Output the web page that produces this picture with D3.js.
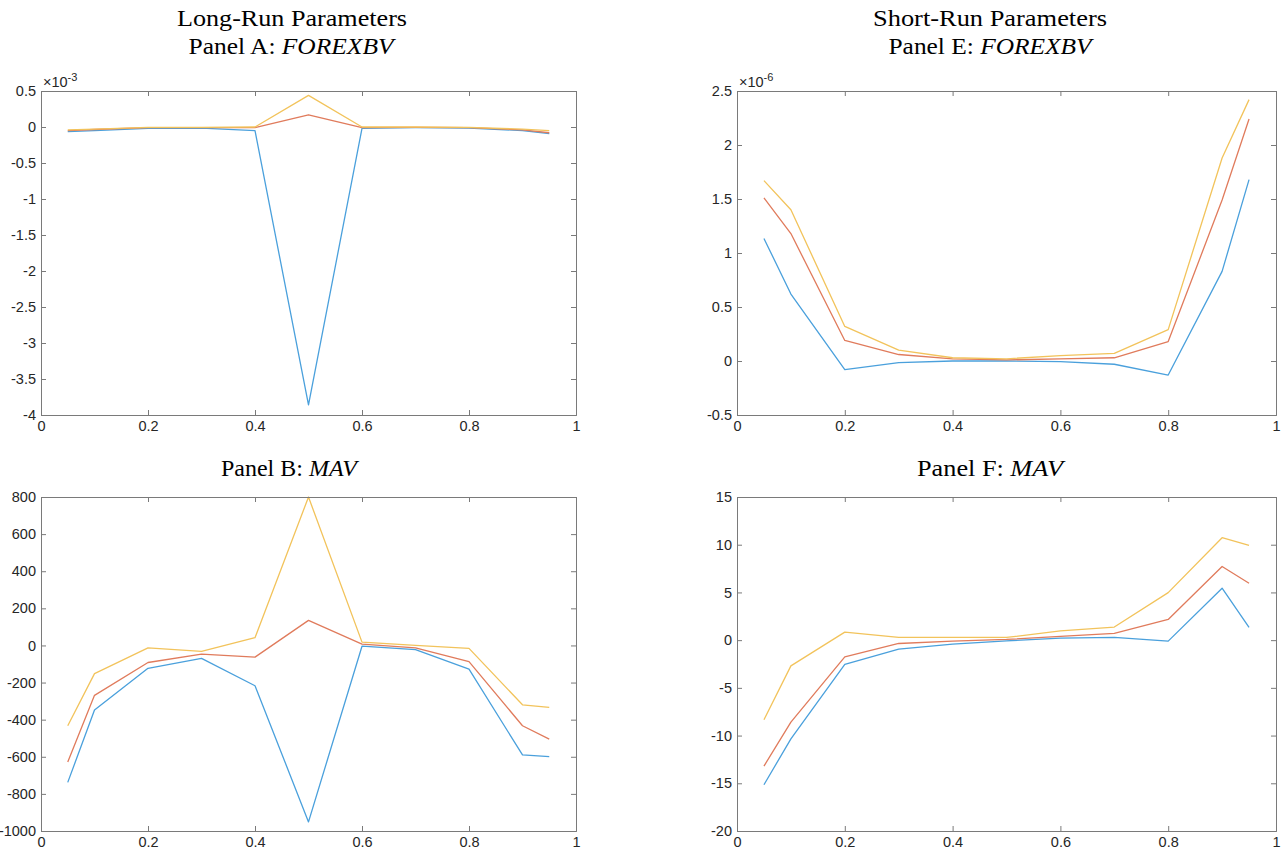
<!DOCTYPE html>
<html>
<head>
<meta charset="utf-8">
<script src="https://cdn.jsdelivr.net/npm/d3@7"></script>
<style>
  html, body { margin: 0; padding: 0; background: #fff; }
  svg { display: block; }
</style>
</head>
<body>
<svg id="chart" width="1282" height="852"></svg>
<script>
// Quantile levels (x axis)
const quantiles = [0.05, 0.1, 0.2, 0.3, 0.4, 0.5, 0.6, 0.7, 0.8, 0.9, 0.95];
const xTicks = [0, 0.2, 0.4, 0.6, 0.8, 1];

// Panel A: FOREXBV, long-run (values in units of 1e-3)
const aBlue   = [-0.065, -0.05, -0.02, -0.015, -0.05, -3.86, -0.02, -0.01, -0.015, -0.05, -0.09];
const aOrange = [-0.05, -0.035, -0.01, -0.01, -0.01, 0.17, -0.01, -0.005, -0.01, -0.04, -0.08];
const aYellow = [-0.04, -0.03, -0.005, -0.005, 0.0, 0.44, 0.0, 0.0, -0.005, -0.03, -0.05];
const aYTicks = [-4, -3.5, -3, -2.5, -2, -1.5, -1, -0.5, 0, 0.5];

// Panel E: FOREXBV, short-run (values in units of 1e-6)
const eBlue   = [1.135, 0.62, -0.08, -0.015, 0.0, 0.0, -0.005, -0.03, -0.13, 0.83, 1.68];
const eOrange = [1.51, 1.18, 0.19, 0.06, 0.02, 0.01, 0.02, 0.03, 0.18, 1.49, 2.24];
const eYellow = [1.67, 1.40, 0.32, 0.10, 0.03, 0.02, 0.05, 0.07, 0.29, 1.88, 2.42];
const eYTicks = [-0.5, 0, 0.5, 1, 1.5, 2, 2.5];

// Panel B: MAV, long-run
const bBlue   = [-738, -348, -123, -70, -217, -951, -4, -22, -128, -590, -599];
const bOrange = [-628, -269, -92, -47, -63, 135, 7, -13, -87, -433, -505];
const bYellow = [-433, -152, -13, -32, 42, 800, 18, 0, -16, -320, -334];
const bYTicks = [-1000, -800, -600, -400, -200, 0, 200, 400, 600, 800];

// Panel F: MAV, short-run
const fBlue   = [-15.15, -10.35, -2.53, -0.95, -0.42, -0.07, 0.21, 0.28, -0.1, 5.44, 1.33];
const fOrange = [-13.2, -8.6, -1.75, -0.35, -0.1, 0.07, 0.39, 0.7, 2.17, 7.72, 5.96];
const fYellow = [-8.35, -2.7, 0.84, 0.28, 0.3, 0.28, 0.98, 1.37, 4.98, 10.73, 9.93];
const fYTicks = [-20, -15, -10, -5, 0, 5, 10, 15];

const seriesColors = ["#4aa0dc", "#e07b5c", "#f2c35b"];

const svg = d3.select("#chart");
const tickFont = "'Liberation Sans', Arial, Helvetica, sans-serif";
const titleFont = "'Palatino Linotype', 'Book Antiqua', Palatino, 'Liberation Serif', 'Times New Roman', serif";

const panels = [
  { box: [41, 91, 576, 415],   yDomain: [-4, 0.5],   yTicks: aYTicks, exp: "-3", series: [aBlue, aOrange, aYellow] },
  { box: [737, 91, 1276, 415], yDomain: [-0.5, 2.5], yTicks: eYTicks, exp: "-6", series: [eBlue, eOrange, eYellow] },
  { box: [41, 497, 576, 831],  yDomain: [-1000, 800], yTicks: bYTicks, exp: null, series: [bBlue, bOrange, bYellow] },
  { box: [737, 497, 1276, 831], yDomain: [-20, 15], yTicks: fYTicks, exp: null, series: [fBlue, fOrange, fYellow] }
];

// Titles
const titles = [
  { x: 292, y: 26, parts: [["Long-Run Parameters", false]], len: 230 },
  { x: 291, y: 54, parts: [["Panel A: ", false], ["FOREXBV", true]], len: 205 },
  { x: 990, y: 26, parts: [["Short-Run Parameters", false]], len: 234 },
  { x: 990, y: 54, parts: [["Panel E: ", false], ["FOREXBV", true]], len: 203 },
  { x: 289, y: 476, parts: [["Panel B: ", false], ["MAV", true]], len: 136 },
  { x: 990, y: 476, parts: [["Panel F: ", false], ["MAV", true]], len: 146 }
];
titles.forEach(t => {
  const txt = svg.append("text")
    .attr("x", t.x).attr("y", t.y)
    .attr("text-anchor", "middle")
    .attr("font-family", titleFont)
    .attr("font-size", 24)
    .attr("textLength", t.len)
    .attr("lengthAdjust", "spacingAndGlyphs")
    .attr("fill", "#000");
  t.parts.forEach(p => {
    txt.append("tspan").text(p[0]).attr("font-style", p[1] ? "italic" : "normal");
  });
});

panels.forEach(p => {
  const [x0, y0, x1, y1] = p.box;
  const x = d3.scaleLinear().domain([0, 1]).range([x0, x1]);
  const y = d3.scaleLinear().domain(p.yDomain).range([y1, y0]);
  const g = svg.append("g");

  // lines
  const line = d3.line().x((d, i) => x(quantiles[i])).y(d => y(d));
  p.series.forEach((s, i) => {
    g.append("path")
      .datum(s)
      .attr("d", line)
      .attr("fill", "none")
      .attr("stroke", seriesColors[i])
      .attr("stroke-width", 1.3)
      .attr("stroke-linejoin", "round");
  });

  // axes (ticks inward)
  const axColor = "#7a7a7a";
  const left = g.append("g").attr("transform", `translate(${x0},0)`)
    .call(d3.axisLeft(y).tickValues(p.yTicks).tickSize(-5).tickPadding(5).tickFormat(d => String(d)));
  const right = g.append("g").attr("transform", `translate(${x1},0)`)
    .call(d3.axisRight(y).tickValues(p.yTicks).tickSize(-5).tickFormat(""));
  const bottom = g.append("g").attr("transform", `translate(0,${y1})`)
    .call(d3.axisBottom(x).tickValues(xTicks).tickSize(-5).tickPadding(6).tickFormat(d => String(d)));
  const top = g.append("g").attr("transform", `translate(0,${y0})`)
    .call(d3.axisTop(x).tickValues(xTicks).tickSize(-5).tickFormat(""));
  [left, right, bottom, top].forEach(a => {
    a.select(".domain").attr("stroke", axColor).attr("stroke-width", 1);
    a.selectAll(".tick line").attr("stroke", axColor);
    a.selectAll(".tick text")
      .attr("font-family", tickFont)
      .attr("font-size", 14.5)
      .attr("fill", "#262626");
  });

  if (p.exp) {
    const t = g.append("text")
      .attr("x", x0 + 2).attr("y", y0 - 4)
      .attr("font-family", tickFont)
      .attr("font-size", 14.5)
      .attr("fill", "#262626");
    t.append("tspan").text("\u00d710");
    t.append("tspan").text(p.exp).attr("font-size", 11).attr("dy", -6);
  }
});
</script>
</body>
</html>
